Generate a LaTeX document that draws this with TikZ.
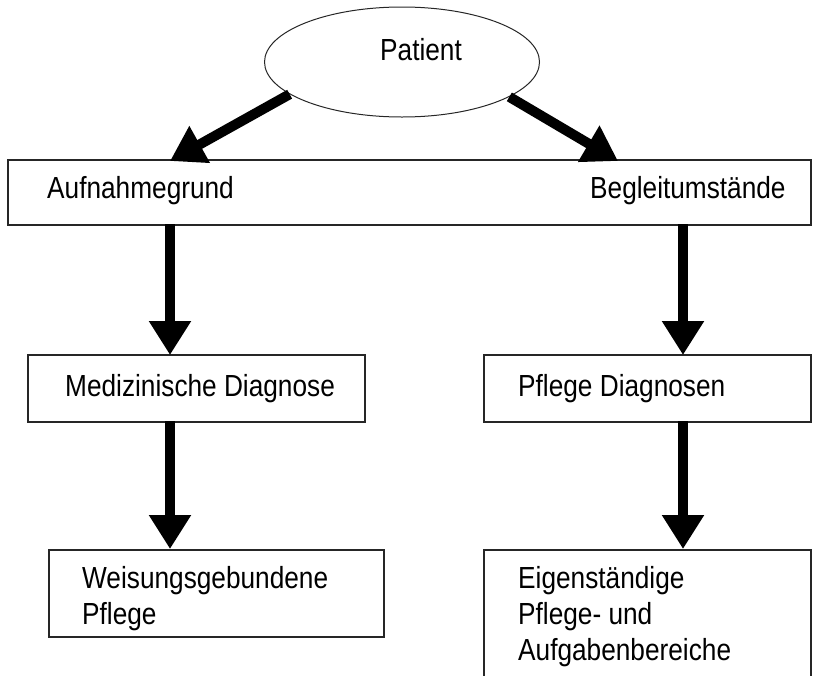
\documentclass[tikz,border=0pt]{standalone}
\usepackage{fontspec}
\setmainfont{Liberation Sans}[FakeStretch=0.86]
\usetikzlibrary{arrows.meta,shapes.geometric}
\tikzset{
  boxframe/.style={draw=black!85, line width=1.5pt, inner sep=0pt, anchor=north west},
  lbl/.style={anchor=base west, inner sep=0pt, font=\fontsize{30.5}{36}\selectfont, align=left},
  bigarrow/.style={line width=10pt, -{Triangle[width=40pt,length=34pt]}},
}
\begin{document}
\begin{tikzpicture}[x=1pt,y=-1pt]
\useasboundingbox (0,0) rectangle (813,675);
\clip (0,0) rectangle (813,675);
% ellipse
\node[ellipse, draw=black!85, line width=1pt, minimum width=275pt, minimum height=110pt, inner sep=0pt] (pat) at (402,62) {};
\node[inner sep=0pt, font=\fontsize{30.5}{36}\selectfont] (ptext) at (421,50) {Patient};
% boxes
\node[boxframe, minimum width=803pt, minimum height=65pt] (top) at (7,159) {};
\node[boxframe, minimum width=337pt, minimum height=67pt] (med) at (27,354) {};
\node[boxframe, minimum width=327pt, minimum height=67pt] (pfd) at (483,354) {};
\node[boxframe, minimum width=335pt, minimum height=87pt] (weis) at (48,549) {};
\node[boxframe, minimum width=327pt, minimum height=150pt] (eig) at (483,549) {};
% texts (base anchor = baseline of last line)
\node[lbl] (tauf) at (47,198) {Aufnahmegrund};
\node[lbl] (tbeg) at (590,198) {Begleitumstände};
\node[lbl] (tmed) at (65,396) {Medizinische Diagnose};
\node[lbl] (tpfd) at (518,396) {Pflege Diagnosen};
\node[lbl] (tweis) at (82,624) {Weisungsgebundene\\Pflege};
\node[lbl] (teig) at (518,660) {Eigenständige\\Pflege- und\\Aufgabenbereiche};
% arrow end points
\coordinate (t1) at (170,161);
\coordinate (t2) at (618,161);
\coordinate (a1s) at (170,224);
\coordinate (a1e) at (170,355);
\coordinate (a2s) at (683,224);
\coordinate (a2e) at (683,355);
\coordinate (a3s) at (170,421);
\coordinate (a3e) at (170,549);
\coordinate (a4s) at (683,421);
\coordinate (a4e) at (683,549);
\draw[bigarrow] (pat.196) -- (t1);
\draw[bigarrow] (pat.-18) -- (t2);
\draw[bigarrow] (a1s) -- (a1e);
\draw[bigarrow] (a2s) -- (a2e);
\draw[bigarrow] (a3s) -- (a3e);
\draw[bigarrow] (a4s) -- (a4e);
\end{tikzpicture}
\end{document}
